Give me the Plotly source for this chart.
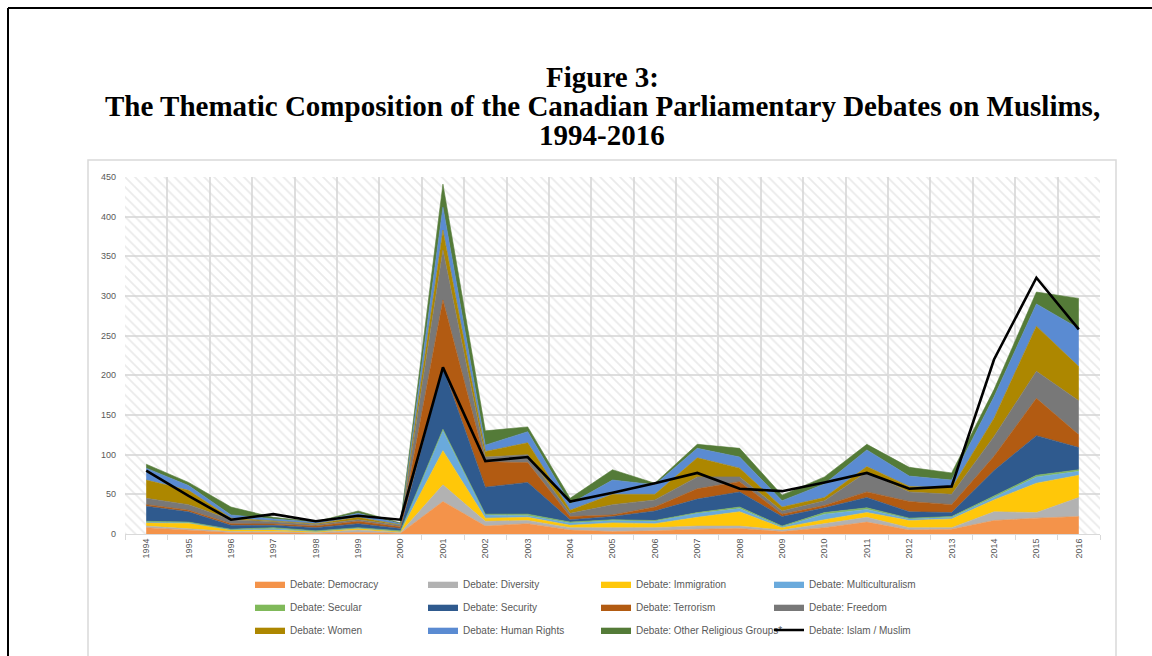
import plotly.graph_objects as go

years = list(range(1994, 2017))

democracy = [8, 5, 2, 2, 1, 2, 1, 41, 10, 13, 5, 3, 4, 6, 7, 3, 8, 15, 5, 6, 17, 20, 22]
diversity = [2, 1.5, 1, 1, 1, 3, 1, 21, 6, 4, 3, 5, 4, 4, 3, 2, 5, 6, 3, 2, 11, 7, 24]
immigration = [4, 7, 2, 2, 1, 2, 1, 43, 4, 4, 3, 6, 5, 11, 18, 3, 5, 6, 9, 11, 15, 37, 28]
multiculturalism = [1.5, 1, 0.5, 1.5, 0.5, 0.5, 0.5, 25, 4, 2, 3, 3, 3, 5, 4, 1, 7, 4, 2, 2, 3, 8, 5]
secular = [0.5, 0.5, 0.5, 1.5, 0.5, 0.5, 0.5, 2, 1, 2, 1, 1, 1, 1, 2, 1, 2, 2, 1, 1, 2, 2, 2]
security = [19, 13, 5, 3, 4, 5, 3, 78, 34, 40, 3, 4, 12, 17, 19, 12, 6, 13, 8, 5, 32, 50, 28]
terrorism = [2, 2, 2, 1.5, 2, 3, 2, 85, 32, 25, 4, 2, 5, 13, 13, 3, 3, 7, 13, 10, 18, 47, 16]
freedom = [8, 7, 5, 3, 2, 2, 2, 63, 6, 10, 4, 13, 9, 15, 6, 4, 6, 25, 12, 13, 25, 34, 43]
women = [23, 18, 2, 1, 1, 3, 0.5, 25, 7, 15, 4, 13, 7, 24, 11, 5, 4, 7, 7, 8, 23, 57, 43]
human_rights = [15, 6, 4, 2.5, 2, 5, 1.5, 29, 8, 14, 8, 18, 12, 12, 14, 8, 17, 21, 13, 10, 27, 28, 48]
other_religious = [5, 4, 10, 2, 0.5, 3, 1, 29, 18, 6, 7, 13, 2, 5, 11, 7, 9, 7, 11, 9, 9, 15, 38]
islam_muslim = [80, 48, 18, 25, 16, 23, 18, 210, 92, 97, 41, 52, 64, 77, 57, 54, 65, 77, 57, 60, 220, 323, 258]

area_series = [
    ("Debate: Democracy", democracy, "#F4934A", "legend"),
    ("Debate: Diversity", diversity, "#B2B2B2", "legend"),
    ("Debate: Immigration", immigration, "#FFC709", "legend"),
    ("Debate: Multiculturalism", multiculturalism, "#6AAADC", "legend"),
    ("Debate: Secular", secular, "#80B95A", "legend2"),
    ("Debate: Security", security, "#2F5A8E", "legend2"),
    ("Debate: Terrorism", terrorism, "#B25B12", "legend2"),
    ("Debate: Freedom", freedom, "#787878", "legend2"),
    ("Debate: Women", women, "#AD8700", "legend3"),
    ("Debate: Human Rights", human_rights, "#5A8BD2", "legend3"),
    ("Debate: Other Religious Groups*", other_religious, "#547B38", "legend3"),
]

# plot-area pixel geometry
W, H = 1152, 656
L, R, T, B = 125, 1100, 177, 534
pw, ph = R - L, B - T


def px(x):
    return (x - L) / pw


def py(y):
    return (B - y) / ph


fig = go.Figure()

# hatched plot background
fig.add_trace(go.Scatter(
    x=[1993.5, 2016.5, 2016.5, 1993.5, 1993.5], y=[0, 0, 450, 450, 0],
    mode="lines", line=dict(width=0), fill="toself", fillcolor="rgba(0,0,0,0)",
    fillpattern=dict(shape="\\", fgcolor="#d6d6d6", bgcolor="rgba(0,0,0,0)", size=7, solidity=0.25),
    showlegend=False, hoverinfo="skip"))

for name, vals, color, lg in area_series:
    fig.add_trace(go.Scatter(
        x=years, y=vals, name=name, mode="lines", stackgroup="one",
        line=dict(width=0.6, color=color), fillcolor=color, legend=lg))

fig.add_trace(go.Scatter(
    x=years, y=islam_muslim, name="Debate: Islam / Muslim", mode="lines",
    line=dict(color="black", width=2.6), legend="legend3"))

legend_common = dict(orientation="h", xanchor="left", yanchor="middle",
                     entrywidth=128, entrywidthmode="pixels", traceorder="normal",
                     font=dict(family="Liberation Sans", size=10, color="#595959"),
                     bgcolor="rgba(0,0,0,0)", itemwidth=30, tracegroupgap=0)

fig.update_layout(
    width=W, height=H,
    margin=dict(l=L, r=W - R, t=T, b=H - B, pad=0),
    paper_bgcolor="white", plot_bgcolor="white",
    showlegend=True,
    legend=dict(x=px(250), y=py(584), **legend_common),
    legend2=dict(x=px(250), y=py(607), **legend_common),
    legend3=dict(x=px(250), y=py(630), **legend_common),
    xaxis=dict(range=[1993.5, 2016.5], tickmode="array", tickvals=years,
               ticktext=[str(y) for y in years], tickangle=-90,
               tickfont=dict(family="Liberation Sans", size=9, color="#595959"),
               showgrid=False, zeroline=False, showline=True, linecolor="#d9d9d9", linewidth=1,
               ticks="", ticklen=0,
               minor=dict(tick0=1993.5, dtick=1, showgrid=True, gridcolor="#dedede", gridwidth=2,
                          ticks="outside", ticklen=5, tickcolor="#d9d9d9")),
    yaxis=dict(range=[0, 450], dtick=50, showgrid=True, gridcolor="#dedede", gridwidth=2,
               zeroline=False, showline=False,
               tickfont=dict(family="Liberation Sans", size=9, color="#595959"), ticks="",
               ticklabelstandoff=8),
)

shapes = [
    # page frame
    dict(type="line", xref="paper", yref="paper", x0=px(8), x1=px(1160), y0=py(8), y1=py(8),
         line=dict(color="black", width=2)),
    dict(type="line", xref="paper", yref="paper", x0=px(8), x1=px(8), y0=py(8), y1=py(670),
         line=dict(color="black", width=2)),
    # chart box
    dict(type="rect", xref="paper", yref="paper", x0=px(88), x1=px(1116), y0=py(160), y1=py(680),
         line=dict(color="#d9d9d9", width=1.5), fillcolor="rgba(0,0,0,0)", layer="below"),
]
fig.update_layout(shapes=shapes)

title_lines = [
    ("Figure 3:", 77),
    ("The Thematic Composition of the Canadian Parliamentary Debates on Muslims,", 106),
    ("1994-2016", 135),
]
for txt, yc in title_lines:
    fig.add_annotation(text="<b>" + txt + "</b>", xref="paper", yref="paper",
                       x=px(602), y=py(yc), xanchor="center", yanchor="middle", showarrow=False,
                       font=dict(family="Liberation Serif", size=29, color="black"))

fig.write_html("out.html")
